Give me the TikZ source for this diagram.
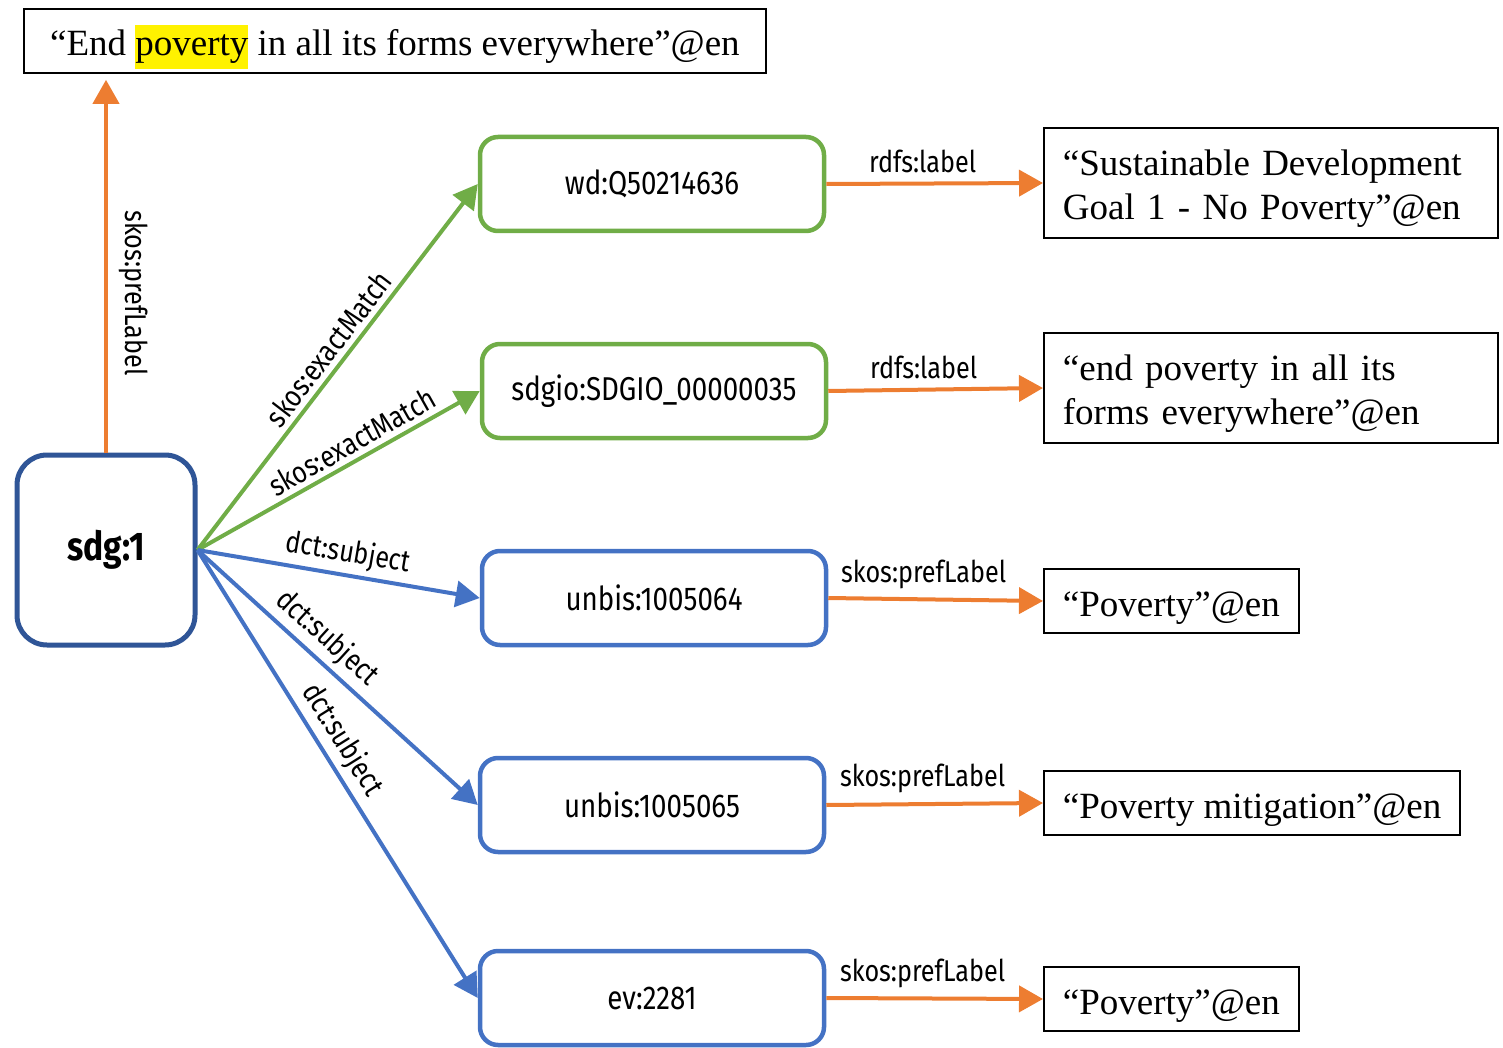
\documentclass[tikz,border=0pt]{standalone}
\usepackage{fontspec}
\setmainfont{Liberation Serif}
\newfontfamily\cond[FakeStretch=0.84]{Fira Sans}
\usetikzlibrary{arrows.meta}
\definecolor{orng}{HTML}{ED7D31}
\definecolor{grn}{HTML}{70AD47}
\definecolor{blu}{HTML}{4472C4}
\definecolor{dblu}{HTML}{2F5597}
\begin{document}
\begin{tikzpicture}[x=1pt,y=-1pt,
  lit/.style={draw=black, line width=1.8pt, inner xsep=19pt, inner ysep=4pt, font=\fontsize{37}{44}\selectfont, align=left},
  onelit/.style={lit, text height=30pt, text depth=0pt, minimum height=64pt},
  res/.style={draw=#1, line width=4.5pt, rounded corners=18pt, minimum width=344pt, minimum height=94pt, font=\cond\fontsize{33}{36}\selectfont},
  lbl/.style={font=\cond\fontsize{30}{32}\selectfont, inner sep=5pt, text=black},
  oarrow/.style={draw=orng, line width=4pt, -{Triangle[length=24pt,width=26pt]}},
  garrow/.style={draw=grn, line width=4pt, -{Triangle[length=24pt,width=26pt]}},
  barrow/.style={draw=blu, line width=4pt, -{Triangle[length=24pt,width=26pt]}}]
\useasboundingbox (0,0) rectangle (1503,1048);
\setlength{\fboxsep}{0pt}
% top literal
\node[onelit, minimum width=742pt, anchor=north west] (top) at (23,8)
  {“End \colorbox{yellow}{\strut poverty} in all its forms everywhere”@en};
% central node
\node[draw=dblu, line width=5pt, rounded corners=30pt, minimum width=178pt, minimum height=190pt,
  font=\cond\bfseries\fontsize{40}{44}\selectfont] (sdg) at (106,550) {sdg:1};
% resource nodes
\node[res=grn] (wd) at (652,184) {wd:Q50214636};
\node[res=grn] (sdgio) at (654,391) {sdgio:SDGIO\_00000035};
\node[res=blu] (u1) at (654,598) {unbis:1005064};
\node[res=blu] (u2) at (652,805) {unbis:1005065};
\node[res=blu] (ev) at (652,998) {ev:2281};
% literal nodes
\node[lit, anchor=west, text width=416pt, minimum height=110pt] (l1) at (1043,183)
  {\rule{0pt}{36pt}“Sustainable Development\\Goal 1 - No Poverty”@en};
\node[lit, anchor=west, text width=416pt, minimum height=110pt] (l2) at (1043,388)
  {\rule{0pt}{36pt}“end poverty in all its\\forms everywhere”@en};
\node[onelit, anchor=west] (l3) at (1043,601) {“Poverty”@en};
\node[onelit, anchor=west] (l4) at (1043,803) {“Poverty mitigation”@en};
\node[onelit, anchor=west] (l5) at (1043,999) {“Poverty”@en};
% up arrow
\draw[oarrow, shorten >=6pt] (sdg.north) -- (sdg.north |- top.south);
\node[lbl, rotate=-90] (pl) at (134,293) {skos:prefLabel};
% edges from sdg
\draw[garrow] (sdg.east) -- node[lbl, sloped, above, pos=0.52] (e1) {skos:exactMatch} (wd.west);
\draw[garrow] (sdg.east) -- node[lbl, sloped, above, pos=0.58] (e2) {skos:exactMatch} (sdgio.west);
\draw[barrow] (sdg.east) -- node[lbl, sloped, above, pos=0.52] (e3) {dct:subject} (u1.west);
\draw[barrow] (sdg.east) -- node[lbl, sloped, above, pos=0.41] (e4) {dct:subject} (u2.west);
\draw[barrow] (sdg.east) -- node[lbl, sloped, above, pos=0.45] (e5) {dct:subject} (ev.west);
% orange property arrows
\draw[oarrow] (wd.east) -- node[lbl, above=4pt, xshift=-12pt] (p1) {rdfs:label} (l1.west);
\draw[oarrow] (sdgio.east) -- node[lbl, above=4pt, xshift=-12pt] (p2) {rdfs:label} (l2.west);
\draw[oarrow] (u1.east) -- node[lbl, above=4pt, xshift=-12pt] (p3) {skos:prefLabel} (l3.west);
\draw[oarrow] (u2.east) -- node[lbl, above=4pt, xshift=-12pt] (p4) {skos:prefLabel} (l4.west);
\draw[oarrow] (ev.east) -- node[lbl, above=4pt, xshift=-12pt] (p5) {skos:prefLabel} (l5.west);
\end{tikzpicture}
\end{document}
